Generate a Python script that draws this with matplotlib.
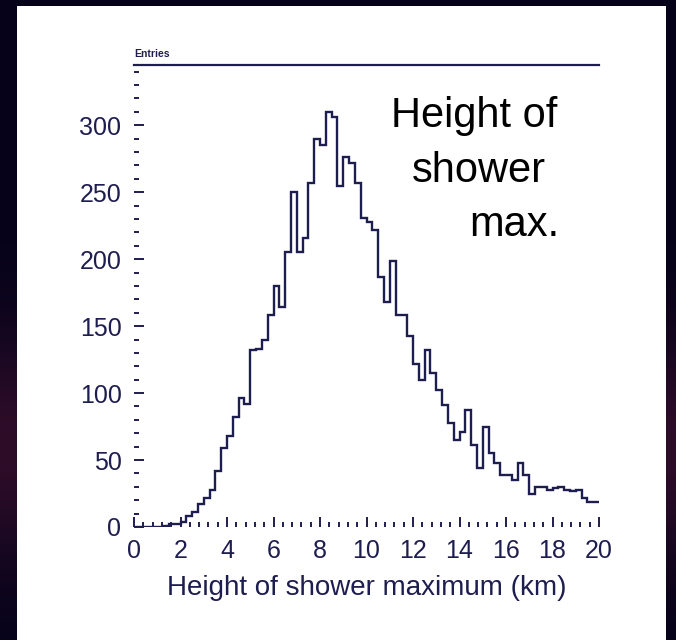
import numpy as np
import matplotlib
matplotlib.use("Agg")
import matplotlib.pyplot as plt
from matplotlib.ticker import MultipleLocator
from matplotlib.patches import Rectangle

plt.rcParams['font.family'] = ['Liberation Sans', 'DejaVu Sans']

NAVY = "#1e1d4f"

# histogram: 80 bins of 0.25 km from 0 to 20 km
bin_lo, bin_hi, bin_w = 0.0, 20.0, 0.25
counts = [
    0, 0, 0, 0, 0, 1, 2, 2,            # 0 - 2
    4, 8, 11, 17, 22, 28, 42, 59,      # 2 - 4
    68, 82, 96, 92, 132, 133, 140, 158,  # 4 - 6
    180, 164, 205, 250, 205, 216, 257, 290,  # 6 - 8
    285, 310, 306, 255, 276, 272, 257, 231,  # 8 - 10
    228, 222, 187, 168, 199, 158, 158, 143,  # 10 - 12
    122, 110, 132, 115, 102, 91, 78, 65,     # 12 - 14
    71, 87, 61, 44, 75, 55, 48, 39,          # 14 - 16
    39, 35, 48, 39, 25, 30, 30, 28,          # 16 - 18
    29, 30, 28, 27, 28, 22, 19, 19,          # 18 - 20
]
edges = np.arange(bin_lo, bin_hi + bin_w / 2, bin_w)

y_max = 345
x_label = "Height of shower maximum (km)"
note_lines = ["Height of", "shower", "max."]
stat_text = "Entries"

fig = plt.figure(figsize=(6.76, 6.40), dpi=100)
fig.patch.set_facecolor("#05031a")

# dark "space" backdrop with a faint reddish glow lower left
bg = fig.add_axes([0, 0, 1, 1], zorder=-10)
grad = np.linspace(0, 1, 256)[:, None]
glow = np.exp(-((grad - 0.7) / 0.18) ** 2)
img = np.zeros((256, 1, 3))
img[..., 0] = 0.02 + 0.16 * glow
img[..., 1] = 0.01 + 0.04 * glow
img[..., 2] = 0.10 + 0.06 * glow
bg.imshow(img, aspect="auto", extent=[0, 1, 0, 1])
bg.set_xlim(0, 1)
bg.set_ylim(0, 1)
bg.axis("off")

# white slide panel
fig.patches.append(Rectangle((17 / 676, 0), (666 - 17) / 676, (640 - 6) / 640,
                             transform=fig.transFigure, facecolor="white",
                             edgecolor="none", zorder=-5))

ax = fig.add_axes([134 / 676, (640 - 527) / 640, 465 / 676, 462 / 640])
ax.set_facecolor("none")
ax.stairs(counts, edges, color=NAVY, linewidth=1.7, baseline=None)

ax.set_xlim(bin_lo, bin_hi)
ax.set_ylim(0, y_max)
ax.xaxis.set_major_locator(MultipleLocator(2))
ax.xaxis.set_minor_locator(MultipleLocator(0.4))
ax.yaxis.set_major_locator(MultipleLocator(50))
ax.yaxis.set_minor_locator(MultipleLocator(10))

for side in ["left", "right", "bottom"]:
    ax.spines[side].set_visible(False)
ax.spines["top"].set_color(NAVY)
ax.spines["top"].set_linewidth(1.6)

ax.tick_params(which="both", direction="in", colors=NAVY, labelsize=18,
               top=False, right=False)
ax.tick_params(which="major", length=7.5, width=1.4)
ax.tick_params(which="minor", length=3.5, width=1.4)
ax.tick_params(axis="x", pad=9)
ax.tick_params(axis="y", pad=9)
for lab in ax.get_xticklabels() + ax.get_yticklabels():
    lab.set_color(NAVY)

ax.set_xlabel(x_label, fontsize=20, color=NAVY, labelpad=8)

# tiny stat label above the frame line
ax.text(0.0, 1.012, stat_text, transform=ax.transAxes, fontsize=7.5,
        color=NAVY, fontweight="bold", ha="left", va="bottom")

# slide annotation
fig.text(557 / 676, (640 - 127) / 640, note_lines[0], fontsize=30,
         color="black", ha="right", va="baseline")
fig.text(479 / 676, (640 - 182) / 640, note_lines[1], fontsize=30,
         color="black", ha="center", va="baseline")
fig.text(559 / 676, (640 - 236) / 640, note_lines[2], fontsize=30,
         color="black", ha="right", va="baseline")

fig.savefig("out.png", dpi=100, facecolor=fig.get_facecolor())
